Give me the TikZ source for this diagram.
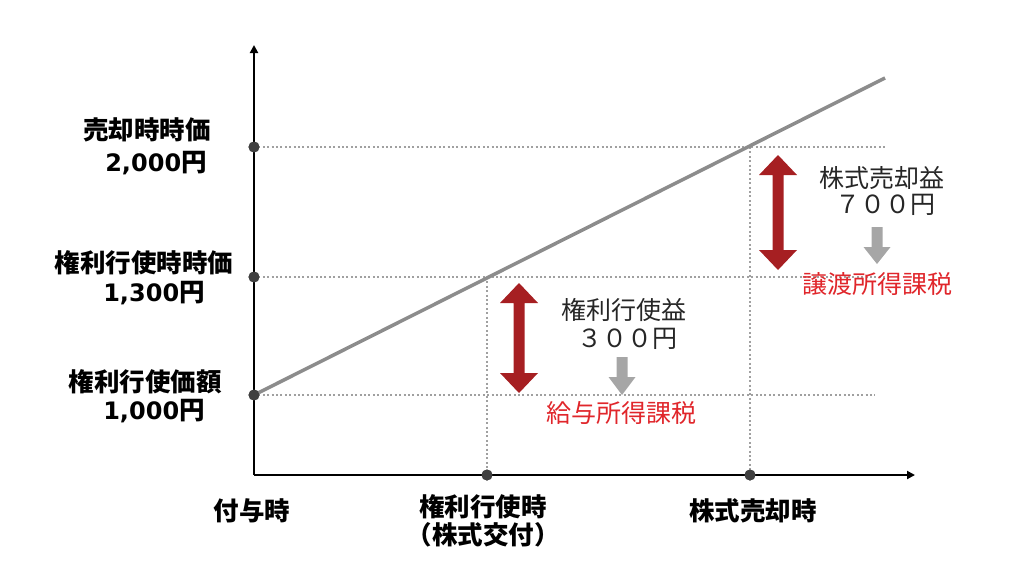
\documentclass[tikz,border=0pt]{standalone}
\usepackage{fontspec}
\usetikzlibrary{arrows.meta}
\newfontfamily\jp{Noto Sans CJK JP}
\newfontfamily\dv{DejaVu Sans}
\definecolor{darkred}{HTML}{A61F22}
\definecolor{redtext}{HTML}{E0262B}
\definecolor{linegray}{HTML}{8C8C8C}
\definecolor{dotgray}{HTML}{404040}
\definecolor{gridgray}{HTML}{A0A0A0}
\definecolor{arrgray}{HTML}{A6A6A6}
\definecolor{txt}{HTML}{262626}
\newcommand{\numtxt}[1]{{\dv\bfseries\fontsize{24}{26}\selectfont #1}}
\begin{document}
\begin{tikzpicture}[x=1pt,y=-1pt,
  lab/.style={font=\jp\bfseries\fontsize{25.5}{28}\selectfont, text=black, inner sep=0},
  reg/.style={font=\jp\fontsize{25}{28}\selectfont, text=txt, inner sep=0},
  redt/.style={font=\jp\fontsize{25}{28}\selectfont, text=redtext, inner sep=0},
  axisline/.style={draw=black, line width=2pt, -{Triangle[length=8pt,width=8pt]}},
  gridline/.style={draw=gridgray, line width=1.9pt, dash pattern=on 1.9pt off 2.5pt},
  priceline/.style={draw=linegray, line width=3.5pt},
  dot/.style={circle, fill=dotgray, minimum size=11pt, inner sep=0},
  redarrow/.style={fill=darkred},
  grayarrow/.style={fill=arrgray}]
\useasboundingbox (0,0) rectangle (1024,576);

% coordinates
\coordinate (O) at (254,475);
\coordinate (ytop) at (254,45);
\coordinate (xend) at (915,475);
\coordinate (pend) at (885,78);
\coordinate (h1end) at (885,147);
\coordinate (h2end) at (885,277);
\coordinate (h3end) at (875,395);
\coordinate (v1top) at (487,277);
\coordinate (v2top) at (750,147);

% dots
\node[dot] (d1) at (254,147) {};
\node[dot] (d2) at (254,277) {};
\node[dot] (d3) at (254,395) {};
\node[dot] (dx1) at (487,475) {};
\node[dot] (dx2) at (750,475) {};

% grid lines
\draw[gridline] (d1.center) -- (h1end);
\draw[gridline] (d2.center) -- (h2end);
\draw[gridline] (d3.center) -- (h3end);
\draw[gridline] (v1top) -- (dx1.center);
\draw[gridline] (v2top) -- (dx2.center);

% price line
\draw[priceline] (d3.center) -- (pend);

% axes
\draw[axisline] (O) -- (ytop);
\draw[axisline] (O) -- (xend);

% redraw dots on top
\node[dot] at (d1) {};
\node[dot] at (d2) {};
\node[dot] at (d3) {};
\node[dot] at (dx1) {};
\node[dot] at (dx2) {};

% red double arrows
\fill[redarrow] (519,283) -- (538,303) -- (524.5,303) -- (524.5,373) -- (538,373) -- (519,393)
  -- (500,373) -- (513.5,373) -- (513.5,303) -- (500,303) -- cycle;
\fill[redarrow] (778,155) -- (797,175) -- (783.5,175) -- (783.5,250) -- (797,250) -- (778,270)
  -- (759,250) -- (772.5,250) -- (772.5,175) -- (759,175) -- cycle;

% gray arrows
\fill[grayarrow] (616.5,357) -- (627.5,357) -- (627.5,377) -- (635.5,377) -- (622,395)
  -- (608.5,377) -- (616.5,377) -- cycle;
\fill[grayarrow] (871.5,227) -- (882.5,227) -- (882.5,247) -- (890.5,247) -- (877,264)
  -- (863.5,247) -- (871.5,247) -- cycle;

% left labels
\node[lab] (l1) at (147,130) {売却時時価};
\node[lab] (l1v) at (156,163) {\numtxt{2,000}円};
\node[lab] (l2) at (144,263) {権利行使時時価};
\node[lab] (l2v) at (154,293) {\numtxt{1,300}円};
\node[lab] (l3) at (145,382) {権利行使価額};
\node[lab] (l3v) at (154,411) {\numtxt{1,000}円};

% bottom labels
\node[lab] (b1) at (252,511) {付与時};
\node[lab] (b2) at (483,507) {権利行使時};
\node[lab] (b2b) at (483,535) {（株式交付）};
\node[lab] (b3) at (753,511) {株式売却時};

% middle texts
\node[reg] (g1) at (624,310) {権利行使益};
\node[reg] (g1v) at (627,339) {３００円};
\node[redt] (g1t) at (621,413) {給与所得課税};
\node[reg] (g2) at (882,178) {株式売却益};
\node[reg] (g2v) at (885,205) {７００円};
\node[redt] (g2t) at (877,284) {譲渡所得課税};
\end{tikzpicture}
\end{document}
